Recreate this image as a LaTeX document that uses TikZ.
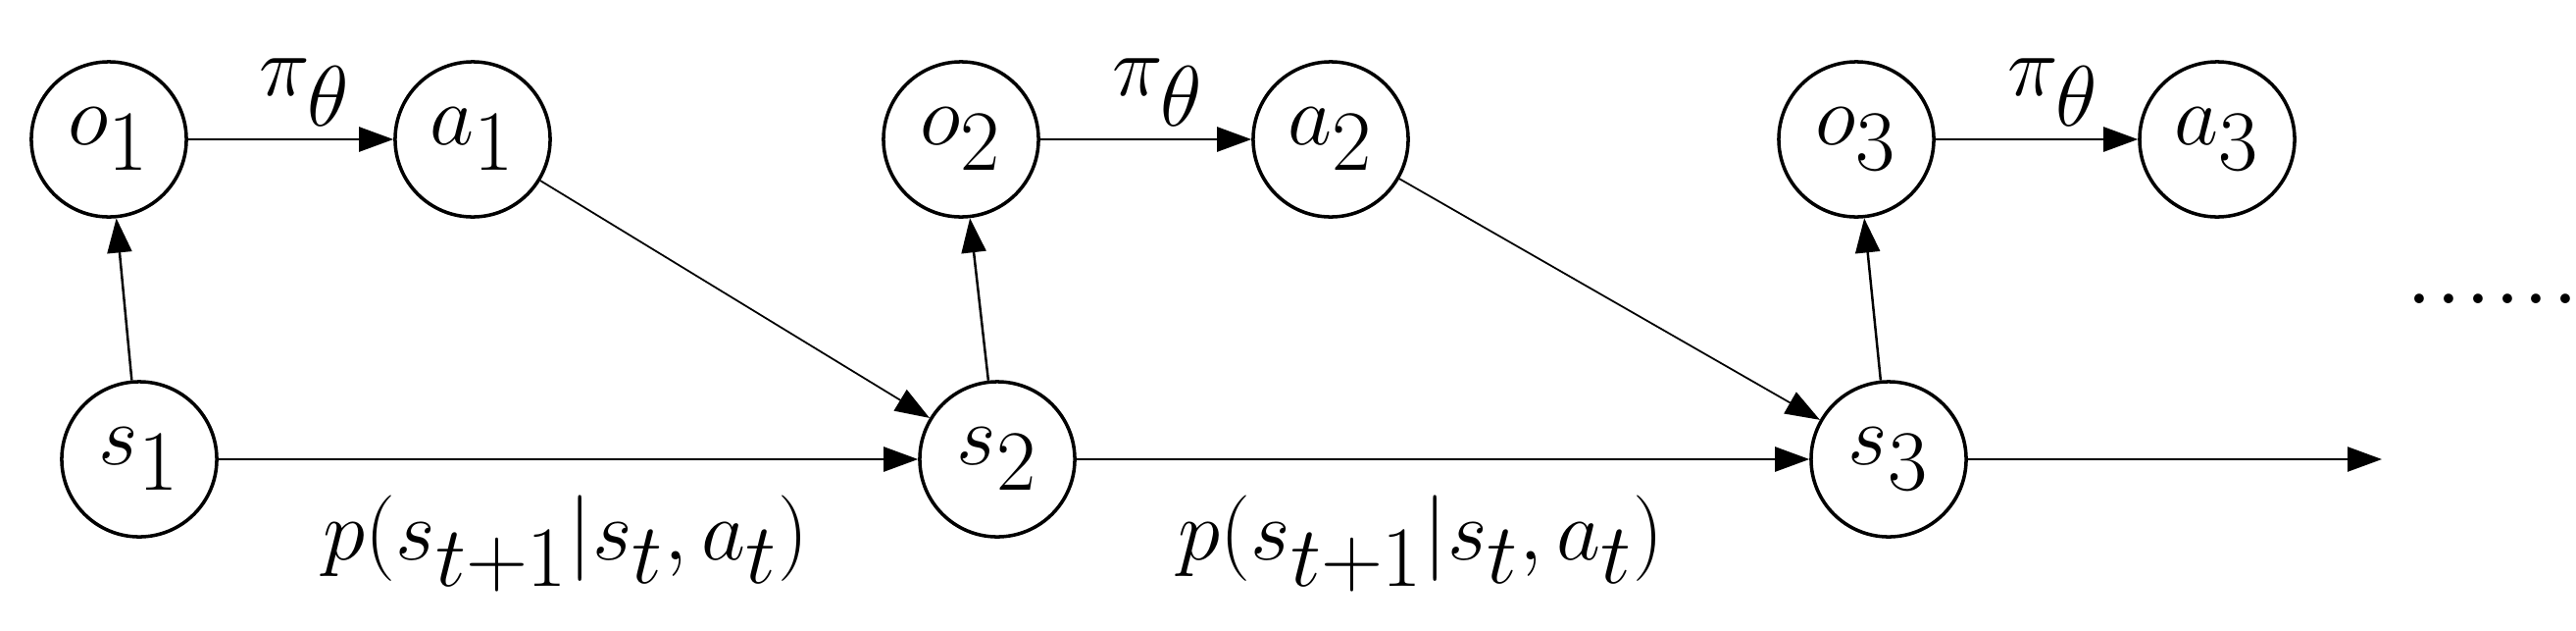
\documentclass[tikz,border=0pt]{standalone}
\usetikzlibrary{arrows.meta}
\begin{document}
\begin{tikzpicture}[x=0.01cm,y=-0.01cm,
  st/.style={circle,draw,line width=1pt,minimum size=1.58cm,inner sep=0pt,font=\fontsize{34}{40}\selectfont},
  lb/.style={font=\fontsize{34}{40}\selectfont},
  ar/.style={-{Triangle[length=0.35cm,width=0.25cm]},line width=0.7pt}]
\useasboundingbox (0,0) rectangle (2627,642);
\node[st] (o1) at (111,142) {$o_1$};
\node[st] (a1) at (482,142) {$a_1$};
\node[st] (s1) at (142,468) {$s_1$};
\node[st] (o2) at (980,142) {$o_2$};
\node[st] (a2) at (1357,142) {$a_2$};
\node[st] (s2) at (1017,468) {$s_2$};
\node[st] (o3) at (1893,142) {$o_3$};
\node[st] (a3) at (2261,142) {$a_3$};
\node[st] (s3) at (1926,468) {$s_3$};
\coordinate (e) at (2429,468);
\draw[ar] (o1) -- (a1);
\draw[ar] (o2) -- (a2);
\draw[ar] (o3) -- (a3);
\draw[ar] (s1) -- (o1);
\draw[ar] (s2) -- (o2);
\draw[ar] (s3) -- (o3);
\draw[ar] (s1) -- (s2);
\draw[ar] (s2) -- (s3);
\draw[ar] (s3) -- (e);
\draw[ar,line width=0.5pt] (a1) -- (s2);
\draw[ar,line width=0.5pt] (a2) -- (s3);
\node[lb] (p1) at (311,94) {$\pi_\theta$};
\node[lb] (p2) at (1181,94) {$\pi_\theta$};
\node[lb] (p3) at (2094,94) {$\pi_\theta$};
\node[lb] (t1) at (577,554) {$p(s_{t+1}|s_t,a_t)$};
\node[lb] (t2) at (1449,554) {$p(s_{t+1}|s_t,a_t)$};
\node[lb] (d) at (2542,305) {......};
\end{tikzpicture}
\end{document}
